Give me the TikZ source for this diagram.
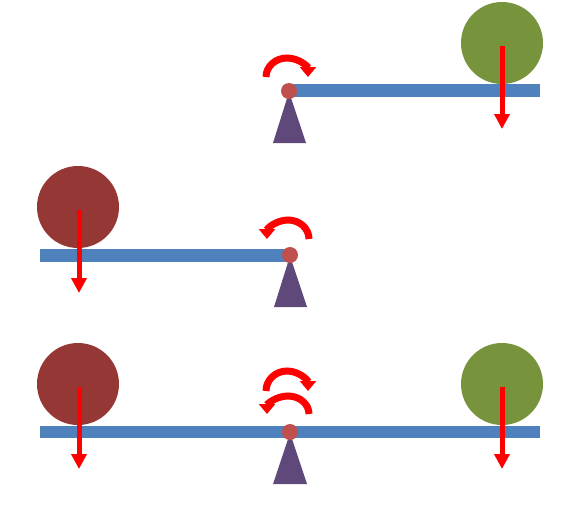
\documentclass[tikz,border=0pt]{standalone}
\usetikzlibrary{arrows.meta}
\definecolor{beamblue}{HTML}{4F81BD}
\definecolor{pivotred}{HTML}{C0504D}
\definecolor{basepurple}{HTML}{5F497A}
\definecolor{wgreen}{HTML}{77933C}
\definecolor{wred}{HTML}{953735}
\definecolor{forcered}{HTML}{FF0000}
\tikzset{
  beam/.style={fill=beamblue, draw=none},
  pivotdot/.style={circle, fill=pivotred, draw=none, minimum size=16pt, inner sep=0pt},
  basetri/.style={fill=basepurple, draw=none},
  weightg/.style={circle, fill=wgreen, draw=none, minimum size=82pt, inner sep=0pt},
  weightr/.style={circle, fill=wred, draw=none, minimum size=82pt, inner sep=0pt},
  force/.style={draw=forcered, line width=5pt, -{Triangle[width=15pt,length=15pt]}},
  turn/.style={draw=forcered, line width=7pt, -{Triangle[width=16pt,length=10pt]}}
}
\begin{document}
\begin{tikzpicture}[x=1pt,y=-1pt]
\useasboundingbox (0,0) rectangle (580,509);
% ---------- panel 1 ----------
\fill[basetri] (289,92) -- (306,143) -- (273,143) -- cycle;
\fill[beam] (289,84) rectangle (540,97);
\node[pivotdot] (p1) at (289,91) {};
\node[weightg] (g1) at (502,43) {};
\coordinate (g1a) at (502,46);
\coordinate (g1b) at (502,129);
\draw[force] (g1a) -- (g1b);
\draw[turn] (266,77) arc[start angle=180,end angle=360,x radius=21,y radius=19];
% ---------- panel 2 ----------
\fill[basetri] (290,256) -- (307,307) -- (274,307) -- cycle;
\fill[beam] (40,249) rectangle (290,262);
\node[pivotdot] (p2) at (290,255) {};
\node[weightr] (r2) at (78,207) {};
\coordinate (r2a) at (79,210);
\coordinate (r2b) at (79,293);
\draw[force] (r2a) -- (r2b);
\draw[turn] (309,239) arc[start angle=360,end angle=180,x radius=21,y radius=19];
% ---------- panel 3 ----------
\fill[basetri] (290,433) -- (307,484) -- (273,484) -- cycle;
\fill[beam] (40,426) rectangle (540,438);
\node[pivotdot] (p3) at (290,432) {};
\node[weightr] (r3) at (78,384) {};
\node[weightg] (g3) at (502,384) {};
\coordinate (r3a) at (79,387);
\coordinate (r3b) at (79,469);
\coordinate (g3a) at (502,387);
\coordinate (g3b) at (502,469);
\draw[force] (r3a) -- (r3b);
\draw[force] (g3a) -- (g3b);
\draw[turn] (266,391) arc[start angle=180,end angle=360,x radius=21,y radius=20];
\draw[turn] (309,414) arc[start angle=360,end angle=180,x radius=21,y radius=18];
\end{tikzpicture}
\end{document}
